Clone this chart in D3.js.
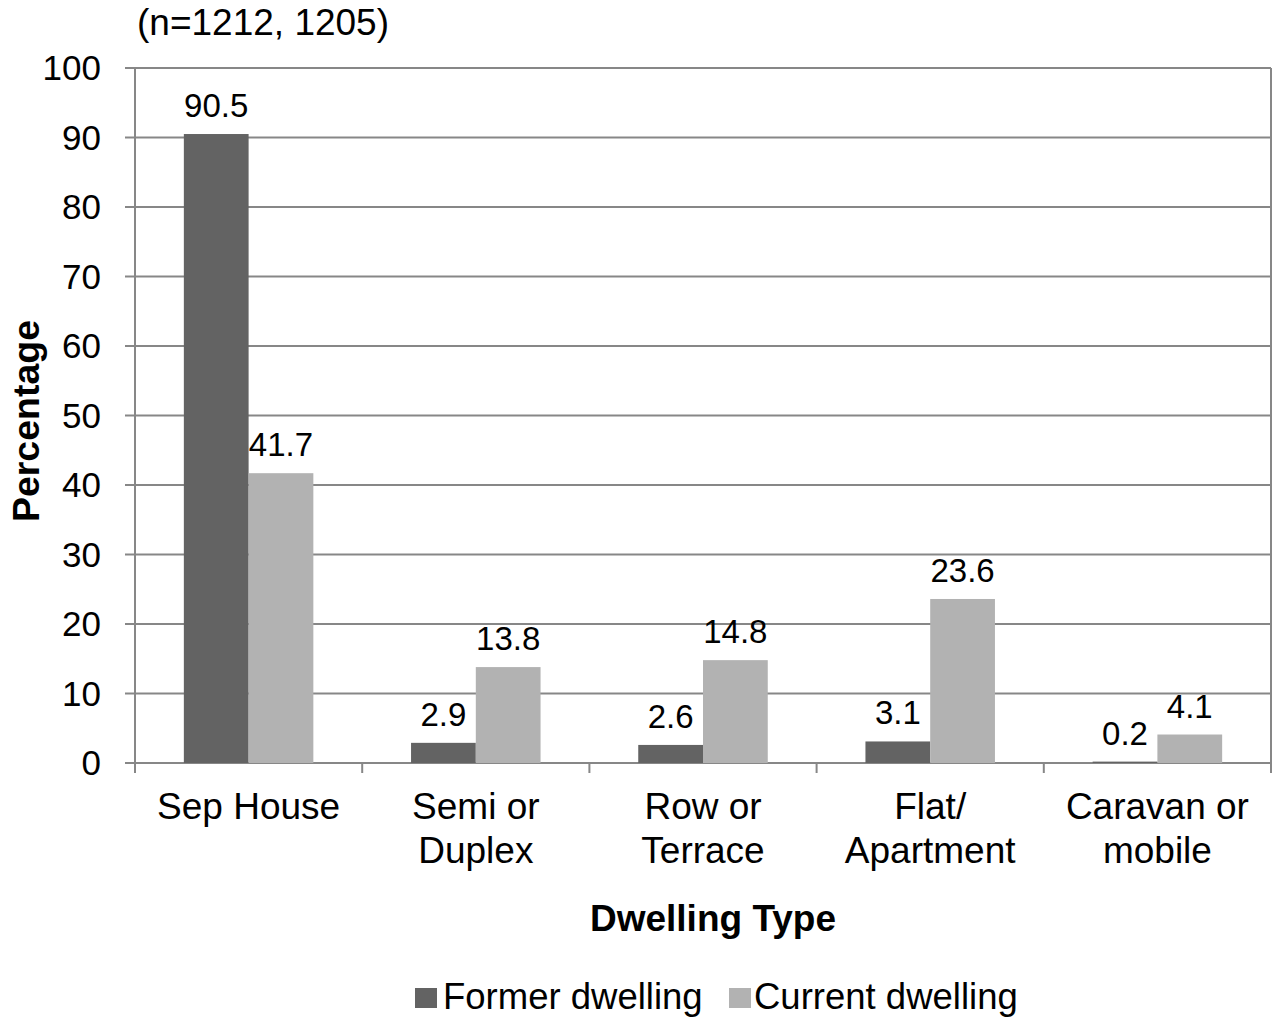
<!DOCTYPE html>
<html>
<head>
<meta charset="utf-8">
<script src="https://cdn.jsdelivr.net/npm/d3@7"></script>
<style>
  body { margin: 0; background: #fff; }
  text { font-family: 'Liberation Sans', Arial, sans-serif; fill: #000; }
</style>
</head>
<body>
<svg width="1273" height="1017"></svg>
<script>
const categories = [['Sep House'], ['Semi or', 'Duplex'], ['Row or', 'Terrace'], ['Flat/', 'Apartment'], ['Caravan or', 'mobile']]
const seriesNames = ['Former dwelling', 'Current dwelling']
const former = [90.5, 2.9, 2.6, 3.1, 0.2]
const current = [41.7, 13.8, 14.8, 23.6, 4.1]
const yTicks = [0, 10, 20, 30, 40, 50, 60, 70, 80, 90, 100]
const colors = ['#636363', '#b2b2b2']

const svg = d3.select('svg')
const plot = { left: 135, right: 1271, top: 68, bottom: 763 }
const gridColor = '#878787'

const keys = categories.map(c => c.join(' '))
const data = keys.map((k, i) => ({ key: k, lines: categories[i], values: [former[i], current[i]] }))

const x0 = d3.scaleBand().domain(keys).range([plot.left, plot.right]).paddingInner(0.43).paddingOuter(0.215)
const x1 = d3.scaleBand().domain(seriesNames).range([0, x0.bandwidth()])
const y = d3.scaleLinear().domain([0, 100]).range([plot.bottom, plot.top])

// gridlines + y ticks
const yAxis = svg.append('g')
yAxis.selectAll('line').data(yTicks).enter().append('line')
  .attr('x1', plot.left - 10).attr('x2', plot.right)
  .attr('y1', d => y(d)).attr('y2', d => y(d))
  .attr('stroke', gridColor).attr('stroke-width', 2)
yAxis.selectAll('text').data(yTicks).enter().append('text')
  .attr('x', 101).attr('y', d => y(d) + 12)
  .attr('text-anchor', 'end').attr('font-size', 35)
  .text(d => d)

// axis lines
svg.append('line').attr('x1', plot.left).attr('x2', plot.left).attr('y1', plot.top).attr('y2', plot.bottom)
  .attr('stroke', gridColor).attr('stroke-width', 2)
svg.append('line').attr('x1', plot.right).attr('x2', plot.right).attr('y1', plot.top).attr('y2', plot.bottom + 10)
  .attr('stroke', gridColor).attr('stroke-width', 2)

// category ticks at band boundaries
const bounds = d3.range(keys.length + 1).map(i => plot.left + i * x0.step())
svg.append('g').selectAll('line').data(bounds).enter().append('line')
  .attr('x1', d => d).attr('x2', d => d)
  .attr('y1', plot.bottom).attr('y2', plot.bottom + 10)
  .attr('stroke', gridColor).attr('stroke-width', 2)

// bars
const group = svg.selectAll('g.cat').data(data).enter().append('g')
  .attr('class', 'cat')
  .attr('transform', d => 'translate(' + x0(d.key) + ',0)')

group.selectAll('rect').data(d => d.values.map((v, i) => ({ name: seriesNames[i], v, i }))).enter().append('rect')
  .attr('x', d => x1(d.name)).attr('width', x1.bandwidth())
  .attr('y', d => y(d.v)).attr('height', d => plot.bottom - y(d.v))
  .attr('fill', d => colors[d.i])

group.selectAll('text.lbl').data(d => d.values.map((v, i) => ({ name: seriesNames[i], v }))).enter().append('text')
  .attr('class', 'lbl')
  .attr('x', d => x1(d.name) + x1.bandwidth() / 2)
  .attr('y', d => y(d.v) - 17)
  .attr('text-anchor', 'middle').attr('font-size', 33)
  .text(d => d3.format('.1f')(d.v))

// category labels
group.append('text')
  .attr('text-anchor', 'middle').attr('font-size', 37)
  .attr('transform', 'translate(' + x0.bandwidth() / 2 + ',819)')
  .selectAll('tspan').data(d => d.lines).enter().append('tspan')
  .attr('x', 0).attr('dy', (d, i) => i === 0 ? 0 : 44)
  .text(d => d)

// titles
svg.append('text').attr('x', 137).attr('y', 35).attr('font-size', 37).text('(n=1212, 1205)')
svg.append('text').attr('x', 713).attr('y', 931)
  .attr('text-anchor', 'middle').attr('font-size', 37).attr('font-weight', 'bold')
  .text('Dwelling Type')
svg.append('text').attr('transform', 'translate(39,421) rotate(-90)')
  .attr('text-anchor', 'middle').attr('font-size', 37.5).attr('font-weight', 'bold')
  .text('Percentage')

// legend
const legendX = [415, 729]
const legendGap = [28, 25]
const legend = svg.selectAll('g.leg').data(seriesNames).enter().append('g')
  .attr('class', 'leg')
  .attr('transform', (d, i) => 'translate(' + legendX[i] + ',988)')
legend.append('rect').attr('width', 22).attr('height', 20).attr('fill', (d, i) => colors[i])
legend.append('text').attr('x', (d, i) => legendGap[i]).attr('y', 21).attr('font-size', 36.5).text(d => d)
</script>
</body>
</html>
